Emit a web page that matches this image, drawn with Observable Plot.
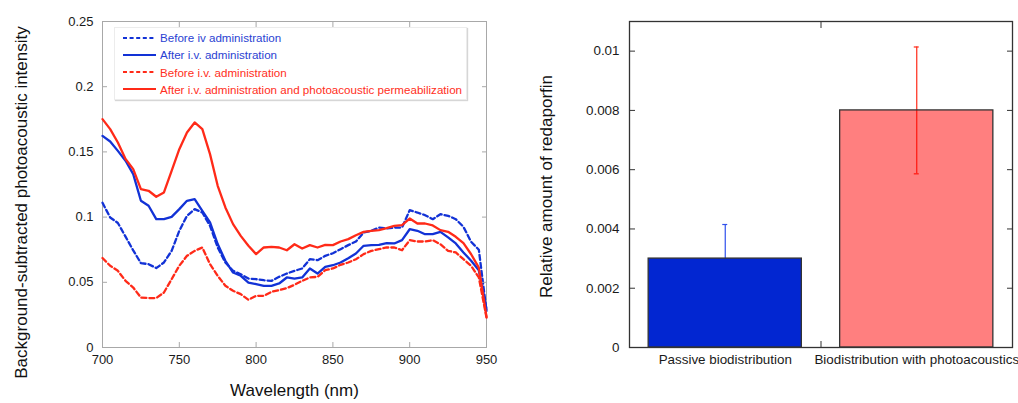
<!DOCTYPE html>
<html>
<head>
<meta charset="utf-8">
<script src="https://cdn.jsdelivr.net/npm/d3@7"></script>
<script src="https://cdn.jsdelivr.net/npm/@observablehq/plot@0.6"></script>
<style>
  html, body { margin: 0; padding: 0; background: #fff; }
  #wrap { position: relative; width: 1018px; height: 403px; overflow: hidden; font-family: "Liberation Sans", Arial, Helvetica, sans-serif; }
  #left { position: absolute; left: 0; top: 0; }
  #right { position: absolute; left: 520px; top: 0; }
  #legend { position: absolute; left: 114px; top: 27px; width: 353px; height: 73px; box-sizing: border-box;
            background: #fff; border: 1px solid #ececec; box-shadow: 1px 1px 1px #d6d6d6; }
  .lrow { position: absolute; left: 0; height: 16px; display: flex; align-items: center; white-space: nowrap; font-size: 11.6px; }
  .lrow svg { margin-left: 8px; margin-right: 4px; }
</style>
</head>
<body>
<div id="wrap">
  <div id="left"></div>
  <div id="right"></div>
  <div id="legend"></div>
</div>
<script>
// ---------- Left panel data ----------
const wavelengths = [700,705,710,715,720,725,730,735,740,745,750,755,760,765,770,775,780,785,790,795,
  800,805,810,815,820,825,830,835,840,845,850,855,860,865,870,875,880,885,890,895,
  900,905,910,915,920,925,930,935,940,945,950];

const beforeIvBlue = [0.1110,0.0997,0.0955,0.0850,0.0745,0.0647,0.0639,0.0609,0.0652,0.0741,
  0.0895,0.1010,0.1061,0.1035,0.0933,0.0767,0.0652,0.0588,0.0562,0.0529,
  0.0524,0.0516,0.0511,0.0542,0.0567,0.0588,0.0606,0.0677,0.0670,0.0703,
  0.0723,0.0754,0.0785,0.0813,0.0882,0.0895,0.0920,0.0913,0.0920,0.0920,
  0.1053,0.1035,0.1015,0.0984,0.1022,0.1010,0.0984,0.0925,0.0810,0.0750,0.0281];

const afterIvBlue = [0.1623,0.1580,0.1508,0.1432,0.1330,0.1125,0.1087,0.0985,0.0985,0.1002,
  0.1061,0.1125,0.1138,0.1048,0.0959,0.0793,0.0665,0.0575,0.0550,0.0498,
  0.0486,0.0473,0.0473,0.0491,0.0537,0.0529,0.0537,0.0606,0.0567,0.0619,
  0.0631,0.0652,0.0685,0.0721,0.0780,0.0785,0.0787,0.0800,0.0798,0.0823,
  0.0907,0.0895,0.0869,0.0869,0.0887,0.0844,0.0798,0.0729,0.0665,0.0593,0.0294];

const beforeIvRed = [0.0686,0.0627,0.0588,0.0511,0.0460,0.0383,0.0379,0.0379,0.0422,0.0524,
  0.0627,0.0703,0.0741,0.0767,0.0639,0.0550,0.0473,0.0435,0.0409,0.0366,
  0.0396,0.0396,0.0427,0.0440,0.0455,0.0481,0.0511,0.0537,0.0542,0.0593,
  0.0606,0.0634,0.0652,0.0677,0.0716,0.0741,0.0754,0.0767,0.0767,0.0746,
  0.0823,0.0813,0.0813,0.0823,0.0792,0.0741,0.0729,0.0677,0.0626,0.0537,0.0230];

const afterIvPermRed = [0.1751,0.1675,0.1572,0.1445,0.1368,0.1215,0.1202,0.1156,0.1189,0.1355,
  0.1521,0.1649,0.1726,0.1675,0.1483,0.1240,0.1074,0.0946,0.0856,0.0780,
  0.0716,0.0767,0.0772,0.0767,0.0746,0.0792,0.0759,0.0785,0.0767,0.0787,
  0.0785,0.0813,0.0831,0.0861,0.0887,0.0895,0.0900,0.0915,0.0933,0.0938,
  0.0989,0.0951,0.0951,0.0936,0.0900,0.0887,0.0849,0.0800,0.0715,0.0613,0.0235];

const seriesNames = [
  "Before iv administration",
  "After i.v. administration",
  "Before i.v. administration",
  "After i.v. administration and photoacoustic permeabilization"
];
const seriesValues = [beforeIvBlue, afterIvBlue, beforeIvRed, afterIvPermRed];

const xTickValues = [700, 750, 800, 850, 900, 950];
const yTickValues = [0, 0.05, 0.1, 0.15, 0.2, 0.25];
const yTickLabels = ["0", "0.05", "0.1", "0.15", "0.2", "0.25"];
const leftXTitle = "Wavelength (nm)";
const leftYTitle = "Background-subtracted photoacoustic intensity";

// ---------- Right panel data ----------
const barCategories = ["Passive biodistribution", "Biodistribution with photoacoustics"];
const barValues = [0.0030, 0.0080];
const barErrors = [0.00115, 0.00214];
const rightYTickValues = [0, 0.002, 0.004, 0.006, 0.008, 0.01];
const rightYTickLabels = ["0", "0.002", "0.004", "0.006", "0.008", "0.01"];
const rightYTitle = "Relative amount of redaporfin";

// ---------- Styles ----------
const BLUE = "#1232d6";
const RED = "#ff2a18";
const seriesColors = [BLUE, BLUE, RED, RED];
const seriesDash = ["5,3", null, "5,3", null];
const legendTextColors = ["#2a3fd2", "#2a3fd2", "#ff2e22", "#ff2e22"];
const barFills = ["#0226d1", "#ff0000"];
const barOpacities = [1, 0.5];
const errColors = ["#2f50ec", "#ff2a18"];
const FONT = "'Liberation Sans', Arial, Helvetica, sans-serif";

// ---------- Left plot ----------
const rows = seriesNames.flatMap((name, s) =>
  wavelengths.map((w, i) => ({w, v: seriesValues[s][i], s})));

const innerX = xTickValues.slice(1, -1);
const innerY = yTickValues.slice(1, -1);
const yFmt = d => yTickLabels[yTickValues.indexOf(d)];

const left = Plot.plot({
  width: 510, height: 403,
  marginLeft: 102, marginRight: 24, marginTop: 21, marginBottom: 56,
  x: {domain: [700, 950]},
  y: {domain: [0, 0.25]},
  style: {fontFamily: FONT, fontSize: "13px", color: "#1a1a1a", background: "transparent", overflow: "visible"},
  marks: [
    Plot.frame({stroke: "#a8a8a8", strokeWidth: 1}),
    ...seriesNames.map((n, s) => Plot.line(rows.filter(r => r.s === s), {
      x: "w", y: "v", stroke: seriesColors[s], strokeWidth: 2.3,
      strokeDasharray: seriesDash[s] ?? undefined, strokeLinejoin: "round"
    })),
    Plot.axisX(xTickValues, {anchor: "bottom", tickSize: 0, tickPadding: 7, label: null, tickFormat: d => String(d)}),
    Plot.axisX(innerX, {anchor: "bottom", tickSize: -5, tickPadding: 0, label: null, tickFormat: () => "", stroke: "#a8a8a8"}),
    Plot.axisX(innerX, {anchor: "top", tickSize: -5, tickPadding: 0, label: null, tickFormat: () => "", stroke: "#a8a8a8"}),
    Plot.axisY(yTickValues, {anchor: "left", tickSize: 0, tickPadding: 9, label: null, tickFormat: yFmt}),
    Plot.axisY(innerY, {anchor: "left", tickSize: -5, tickPadding: 0, label: null, tickFormat: () => "", stroke: "#a8a8a8"}),
    Plot.axisY(innerY, {anchor: "right", tickSize: -5, tickPadding: 0, label: null, tickFormat: () => "", stroke: "#a8a8a8"}),
    Plot.text([leftXTitle], {frameAnchor: "bottom", dy: 48, fontSize: 17, fill: "#111", textAnchor: "middle"}),
    Plot.text([leftYTitle], {frameAnchor: "left", rotate: -90, dx: -81, dy: 18, fontSize: 17, fill: "#111", textAnchor: "middle"})
  ]
});
document.getElementById("left").append(left);

// ---------- Right plot ----------
const bars = barCategories.map((c, i) => ({cat: c, pos: i + 1, value: barValues[i], err: barErrors[i],
  fill: barFills[i], op: barOpacities[i], ec: errColors[i]}));
const halfBar = 0.4;
const halfCap = 0.013;
const rFmt = d => rightYTickLabels[rightYTickValues.indexOf(d)];

const right = Plot.plot({
  width: 498, height: 403,
  marginLeft: 109, marginRight: 6, marginTop: 21, marginBottom: 56,
  x: {domain: [0.5, 2.5]},
  y: {domain: [0, 0.011]},
  color: {type: "identity"},
  opacity: {type: "identity"},
  style: {fontFamily: FONT, fontSize: "13.4px", color: "#1a1a1a", background: "transparent", overflow: "visible"},
  marks: [
    Plot.ruleX(bars, {x: "pos", y1: d => d.value - d.err, y2: d => d.value + d.err, stroke: "ec", strokeWidth: 1.2}),
    Plot.ruleY(bars, {y: d => d.value + d.err, x1: d => d.pos - halfCap, x2: d => d.pos + halfCap, stroke: "ec", strokeWidth: 1.2}),
    Plot.ruleY(bars, {y: d => d.value - d.err, x1: d => d.pos - halfCap, x2: d => d.pos + halfCap, stroke: "ec", strokeWidth: 1.2}),
    Plot.rectY(bars, {x1: d => d.pos - halfBar, x2: d => d.pos + halfBar, y: "value", fill: "fill", fillOpacity: "op", stroke: "#333", strokeWidth: 1.3}),
    Plot.frame({stroke: "#333", strokeWidth: 1.3}),
    Plot.axisX(bars.map(d => d.pos), {anchor: "bottom", tickSize: 0, tickPadding: 7, label: null, tickFormat: p => barCategories[p - 1]}),
    Plot.axisX([1.5], {anchor: "bottom", tickSize: -6, tickPadding: 0, label: null, tickFormat: () => "", stroke: "#333"}),
    Plot.axisX([1.5], {anchor: "top", tickSize: -6, tickPadding: 0, label: null, tickFormat: () => "", stroke: "#333"}),
    Plot.axisY(rightYTickValues, {anchor: "left", tickSize: 0, tickPadding: 10, label: null, tickFormat: rFmt}),
    Plot.axisY(rightYTickValues.slice(1), {anchor: "left", tickSize: -6, tickPadding: 0, label: null, tickFormat: () => "", stroke: "#333"}),
    Plot.axisY(rightYTickValues.slice(1), {anchor: "right", tickSize: -6, tickPadding: 0, label: null, tickFormat: () => "", stroke: "#333"}),
    Plot.text([rightYTitle], {frameAnchor: "left", rotate: -90, dx: -83, dy: 2, fontSize: 17, fill: "#111", textAnchor: "middle"})
  ]
});
document.getElementById("right").append(right);

// ---------- Legend ----------
const legend = document.getElementById("legend");
seriesNames.forEach((name, s) => {
  const row = document.createElement("div");
  row.className = "lrow";
  row.style.top = (1.5 + s * 17.3) + "px";
  row.style.color = legendTextColors[s];
  const dash = seriesDash[s] ? `stroke-dasharray="4,2.6"` : "";
  row.innerHTML = `<svg width="33" height="6"><line x1="0" y1="3" x2="33" y2="3" stroke="${seriesColors[s]}" stroke-width="2.2" ${dash}/></svg><span>${name}</span>`;
  legend.append(row);
});
</script>
</body>
</html>
